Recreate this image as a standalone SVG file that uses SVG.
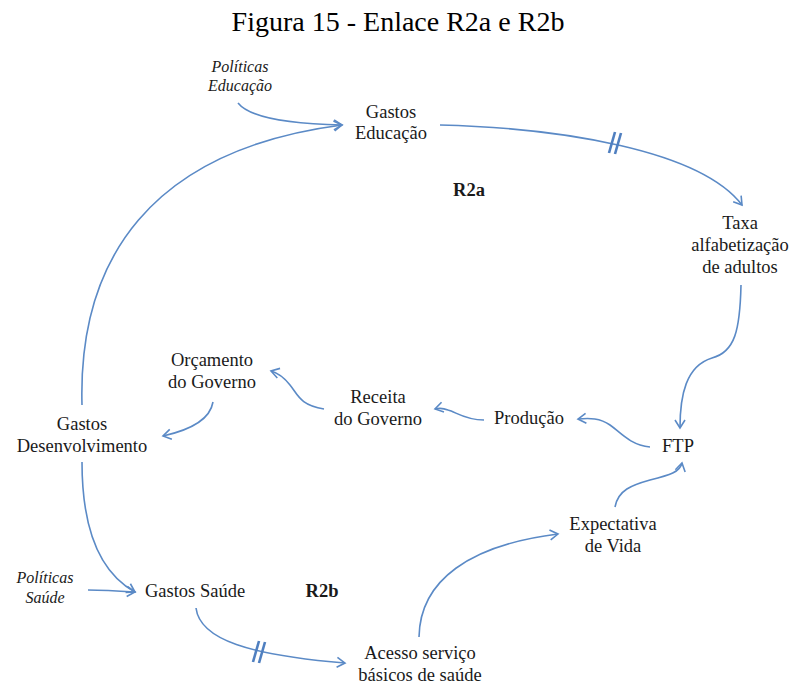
<svg xmlns="http://www.w3.org/2000/svg" width="792" height="686" viewBox="0 0 792 686">
<style>
.t{font-family:"Liberation Serif","Times New Roman",serif;font-size:18.5px;fill:#1a1a1a;text-anchor:middle}
.i{font-family:"Liberation Serif","Times New Roman",serif;font-size:16px;font-style:italic;fill:#1a1a1a;text-anchor:middle}
.b{font-family:"Liberation Serif","Times New Roman",serif;font-size:18.5px;font-weight:bold;fill:#1a1a1a;text-anchor:middle}
.title{font-family:"Liberation Serif","Times New Roman",serif;font-size:28px;fill:#000;text-anchor:middle}
.c{fill:none;stroke:#5b8ac6;stroke-width:1.6;marker-end:url(#ah)}
.h{fill:none;stroke:#4f7fc0;stroke-width:2.6}
</style>
<defs>
<marker id="ah" markerWidth="12" markerHeight="12" refX="10" refY="6" orient="auto" markerUnits="userSpaceOnUse" viewBox="0 0 12 12">
<path d="M2,1 L10,6 L2,11" fill="none" stroke="#5b8ac6" stroke-width="1.6"/>
</marker>
</defs>
<rect width="792" height="686" fill="#fff"/>
<text class="title" x="398" y="31">Figura 15 - Enlace R2a e R2b</text>

<g id="connectors">
<path class="c" d="M238,103 C250,118 290,124 342,125"/>
<path class="c" d="M82,405 C78,260 150,150 342,125"/>
<path class="c" d="M440,125 C560,128 700,150 742,205"/>
<path class="c" d="M741,285 C740,330 735,352 712,358 C686,366 680,395 680,428"/>
<path class="c" d="M650,447 C630,445 620,432 610,425 C600,418 590,418 578,419"/>
<path class="c" d="M484,420 C465,420 456,412 448,410 C443,408 439,408 435,409"/>
<path class="c" d="M324,409 C300,405 298,395 290,385 C283,376 278,373 271,371"/>
<path class="c" d="M213,402 C210,420 190,430 163,436"/>
<path class="c" d="M82,462 C82,520 95,570 135,592"/>
<path class="c" d="M88,590 C105,590 120,591 135,592"/>
<path class="c" d="M196,608 C200,640 250,655 345,663"/>
<path class="c" d="M419,637 C420,580 470,545 558,534"/>
<path class="c" d="M615,507 C618,490 632,485 650,480 C670,475 680,472 682,463"/>
<line class="h" x1="609" y1="153" x2="615" y2="132"/>
<line class="h" x1="615" y1="154" x2="621" y2="133"/>
<line class="h" x1="253" y1="662" x2="259" y2="641"/>
<line class="h" x1="259" y1="663" x2="265" y2="642"/>
</g>

<g id="politicas-educacao"><text class="i" x="240" y="72">Políticas</text><text class="i" x="240" y="91">Educação</text></g>
<g id="gastos-educacao"><text class="t" x="391" y="118">Gastos</text><text class="t" x="391" y="139">Educação</text></g>
<g id="r2a"><text class="b" x="469" y="196">R2a</text></g>
<g id="taxa"><text class="t" x="740" y="229">Taxa</text><text class="t" x="740" y="251">alfabetização</text><text class="t" x="740" y="273">de adultos</text></g>
<g id="ftp"><text class="t" x="678" y="452">FTP</text></g>
<g id="producao"><text class="t" x="529" y="424">Produção</text></g>
<g id="receita"><text class="t" x="378" y="403">Receita</text><text class="t" x="378" y="425">do Governo</text></g>
<g id="orcamento"><text class="t" x="212" y="366">Orçamento</text><text class="t" x="212" y="388">do Governo</text></g>
<g id="gastos-desenvolvimento"><text class="t" x="82" y="430">Gastos</text><text class="t" x="82" y="452">Desenvolvimento</text></g>
<g id="expectativa"><text class="t" x="613" y="530">Expectativa</text><text class="t" x="613" y="552">de Vida</text></g>
<g id="politicas-saude"><text class="i" x="45" y="583">Políticas</text><text class="i" x="45" y="603">Saúde</text></g>
<g id="gastos-saude"><text class="t" x="195" y="597">Gastos Saúde</text></g>
<g id="r2b"><text class="b" x="322" y="597">R2b</text></g>
<g id="acesso"><text class="t" x="420" y="659">Acesso serviço</text><text class="t" x="420" y="681">básicos de saúde</text></g>
</svg>
